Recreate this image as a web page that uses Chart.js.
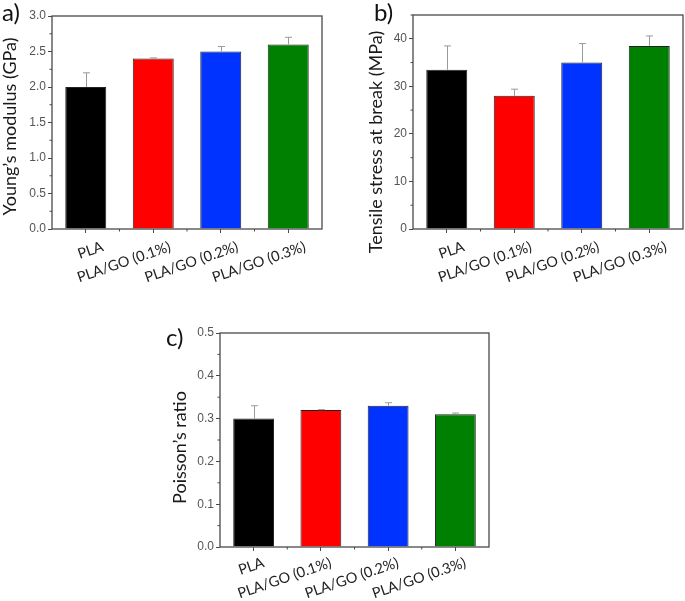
<!DOCTYPE html>
<html><head><meta charset="utf-8">
<script src="https://cdn.jsdelivr.net/npm/chart.js@4/dist/chart.umd.min.js"></script>
<style>
html,body{margin:0;padding:0;background:#fff}
body{width:685px;height:601px;position:relative;overflow:hidden}
.panel{position:absolute}
.tag{position:absolute;font-family:Lato,'Open Sans',sans-serif;font-size:24px;line-height:24px;color:#111}
</style></head><body>
<div class="panel" style="left:0;top:0"><canvas id="ca" width="345" height="300"></canvas></div>
<div class="panel" style="left:345px;top:0"><canvas id="cb" width="340" height="300"></canvas></div>
<div class="panel" style="left:160px;top:300px"><canvas id="cc" width="360" height="301"></canvas></div>
<div class="tag" style="left:2px;top:0">a)</div>
<div class="tag" style="left:374px;top:0">b)</div>
<div class="tag" style="left:166px;top:325px">c)</div>
<script>
const categories = ['PLA', 'PLA/GO (0.1%)', 'PLA/GO (0.2%)', 'PLA/GO (0.3%)'];
const youngValues = [2.0, 2.4, 2.5, 2.6];
const youngErrors = [0.2, 0.01, 0.07, 0.1];
const youngTicks = [0, 0.5, 1.0, 1.5, 2.0, 2.5, 3.0];
const stressValues = [33.5, 28.0, 35.0, 38.5];
const stressErrors = [5.0, 1.4, 4.0, 2.1];
const stressTicks = [0, 10, 20, 30, 40];
const poissonValues = [0.30, 0.32, 0.33, 0.31];
const poissonErrors = [0.03, 0.001, 0.007, 0.003];
const poissonTicks = [0, 0.1, 0.2, 0.3, 0.4, 0.5];
const barColors = ['#000000', '#ff0000', '#0033ff', '#008000'];

const AXIS = '#4a4a4a';

const framePlugin = {
  id: 'frame',
  afterDatasetsDraw(chart) {
    const o = chart.options.plugins.frame;
    const {ctx, chartArea: a} = chart;
    const x = chart.scales.x, y = chart.scales.y;
    ctx.save();
    // error bars (one-sided, upward)
    const meta = chart.getDatasetMeta(0);
    ctx.strokeStyle = '#9a9a9a';
    ctx.lineWidth = 1;
    meta.data.forEach((bar, i) => {
      const v = chart.data.datasets[0].data[i];
      const e = o.errors[i];
      const py0 = y.getPixelForValue(v);
      const py1 = y.getPixelForValue(v + e);
      const px = Math.round(bar.x) + 0.5;
      ctx.beginPath();
      ctx.moveTo(px, py0);
      ctx.lineTo(px, py1);
      ctx.moveTo(px - 3.5, py1);
      ctx.lineTo(px + 3.5, py1);
      ctx.stroke();
    });
    // frame
    ctx.strokeStyle = AXIS;
    ctx.lineWidth = 1.3;
    ctx.strokeRect(a.left, a.top, a.right - a.left, a.bottom - a.top);
    // minor ticks
    ctx.lineWidth = 1;
    ctx.beginPath();
    for (let k = 0; ; k++) {
      const v = o.minorStep * (2 * k + 1);
      if (v > y.max + 1e-9) break;
      const py = y.getPixelForValue(v);
      ctx.moveTo(a.left - 2.5, py);
      ctx.lineTo(a.left, py);
    }
    for (let i = 0; i < categories.length - 1; i++) {
      const px = (x.getPixelForValue(i) + x.getPixelForValue(i + 1)) / 2;
      ctx.moveTo(px, a.bottom);
      ctx.lineTo(px, a.bottom + 2.5);
    }
    ctx.stroke();
    // y-axis title
    const t = o.title;
    ctx.translate(t.cx, t.cy);
    ctx.rotate(-Math.PI / 2);
    ctx.font = '18px Lato';
    ctx.fillStyle = '#1a1a1a';
    ctx.textAlign = 'center';
    ctx.textBaseline = 'middle';
    ctx.fillText(t.text, 0, 0);
    ctx.restore();
  }
};

function makeChart(id, values, errors, tickList, decimals, yMax, minorStep, title, g) {
  return new Chart(document.getElementById(id), {
    type: 'bar',
    data: {
      labels: categories,
      datasets: [{
        data: values,
        backgroundColor: barColors,
        borderColor: '#222',
        borderWidth: 1,
        barPercentage: 0.607,
        categoryPercentage: 1.0
      }]
    },
    options: {
      responsive: false,
      animation: false,
      layout: {padding: {left: 0, right: g.padRight, top: g.padTop, bottom: 0}},
      plugins: {
        legend: {display: false},
        tooltip: {enabled: false},
        frame: {errors: errors, minorStep: minorStep, title: {text: title, cx: g.tx, cy: g.ty}}
      },
      scales: {
        x: {
          offset: true,
          grid: {display: true, drawOnChartArea: false, drawTicks: true, tickLength: 4, color: AXIS, offset: false},
          border: {display: false},
          ticks: {
            autoSkip: false, minRotation: 19, maxRotation: 19, padding: g.labelPad, labelOffset: g.labelOffset,
            color: '#222', font: {family: 'Lato', size: 14.5}
          },
          afterFit(s) { s.height = g.xH; }
        },
        y: {
          min: 0, max: yMax,
          grid: {display: true, drawOnChartArea: false, drawTicks: true, tickLength: 4, color: AXIS},
          border: {display: false},
          afterBuildTicks(s) { s.ticks = tickList.map(v => ({value: v})); },
          ticks: {
            padding: 2, color: '#555',
            font: {family: 'Liberation Sans', size: 12},
            callback: v => Number(v).toFixed(decimals)
          },
          afterFit(s) { s.width = g.axisW; }
        }
      }
    },
    plugins: [framePlugin]
  });
}

makeChart('ca', youngValues, youngErrors, youngTicks, 1, 3.0, 0.25, 'Young\u2019s modulus (GPa)',
  {axisW: 52, padRight: 23, padTop: 16, xH: 71, labelOffset: 17, labelPad: 5, tx: 10, ty: 126.5});
makeChart('cb', stressValues, stressErrors, stressTicks, 0, 45, 5, 'Tensile stress at break (MPa)',
  {axisW: 68, padRight: 2, padTop: 15, xH: 71, labelOffset: 17, labelPad: 5, tx: 31.5, ty: 142});
makeChart('cc', poissonValues, poissonErrors, poissonTicks, 1, 0.5, 0.05, 'Poisson\u2019s ratio',
  {axisW: 60, padRight: 31, padTop: 33, xH: 54, labelOffset: 10, labelPad: 3, tx: 20, ty: 147.5});
</script>
</body></html>
